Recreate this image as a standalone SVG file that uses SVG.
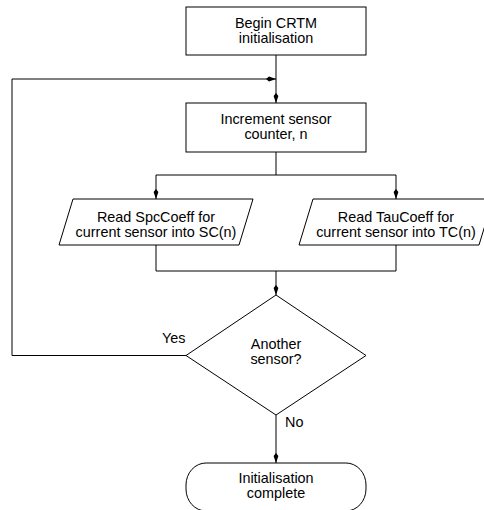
<svg xmlns="http://www.w3.org/2000/svg" width="484" height="510" viewBox="0 0 484 510">
<style>
.shape{fill:#fff;stroke:#000;stroke-width:1}
.conn{fill:none;stroke:#000;stroke-width:1}
text{font-family:"Liberation Sans",Arial,sans-serif;font-size:14.4px;fill:#000}
.c{text-anchor:middle}
</style>
<defs>
<marker id="ah" markerUnits="userSpaceOnUse" markerWidth="10" markerHeight="6" viewBox="0 0 10 6" refX="10" refY="3" orient="auto">
<path d="M0,3 L3,0.6 L10,3 L3,5.4 Z" fill="#000"/>
</marker>
</defs>
<rect width="484" height="510" fill="#fff"/>
<g id="connectors">
<path class="conn" d="M276,55 V103" marker-end="url(#ah)"/>
<path class="conn" d="M186,355.5 H12 V79 H276" marker-end="url(#ah)"/>
<path class="conn" d="M276,152 V175"/>
<path class="conn" d="M156,175 H396"/>
<path class="conn" d="M156,175 V199" marker-end="url(#ah)"/>
<path class="conn" d="M396,175 V199" marker-end="url(#ah)"/>
<path class="conn" d="M156,245 V271 H396 V245"/>
<path class="conn" d="M276,271 V295" marker-end="url(#ah)"/>
<path class="conn" d="M276,415 V463" marker-end="url(#ah)"/>
<text x="162" y="343">Yes</text>
<text x="285" y="427">No</text>
</g>
<g id="begin">
<rect class="shape" x="186" y="7" width="180" height="48"/>
<text class="c" x="276" y="28">Begin CRTM</text>
<text class="c" x="276" y="43">initialisation</text>
</g>
<g id="increment">
<rect class="shape" x="186" y="103" width="180" height="49"/>
<text class="c" x="276" y="124">Increment sensor</text>
<text class="c" x="276" y="139">counter, n</text>
</g>
<g id="readSpc">
<polygon class="shape" points="73,199 253,199 239,245 59,245"/>
<text class="c" x="156" y="221.5">Read SpcCoeff for</text>
<text class="c" x="156" y="236.5">current sensor into SC(n)</text>
</g>
<g id="readTau">
<polygon class="shape" points="313,199 493,199 479,245 299,245"/>
<text class="c" x="396" y="221.5">Read TauCoeff for</text>
<text class="c" x="396" y="236.5">current sensor into TC(n)</text>
</g>
<g id="decision">
<polygon class="shape" points="276,295 366,355.5 276,415 186,355.5"/>
<text class="c" x="276" y="349">Another</text>
<text class="c" x="276" y="364">sensor?</text>
</g>
<g id="end">
<rect class="shape" x="186" y="463" width="180" height="48" rx="20" ry="22"/>
<text class="c" x="276" y="483">Initialisation</text>
<text class="c" x="276" y="498">complete</text>
</g>
</svg>
